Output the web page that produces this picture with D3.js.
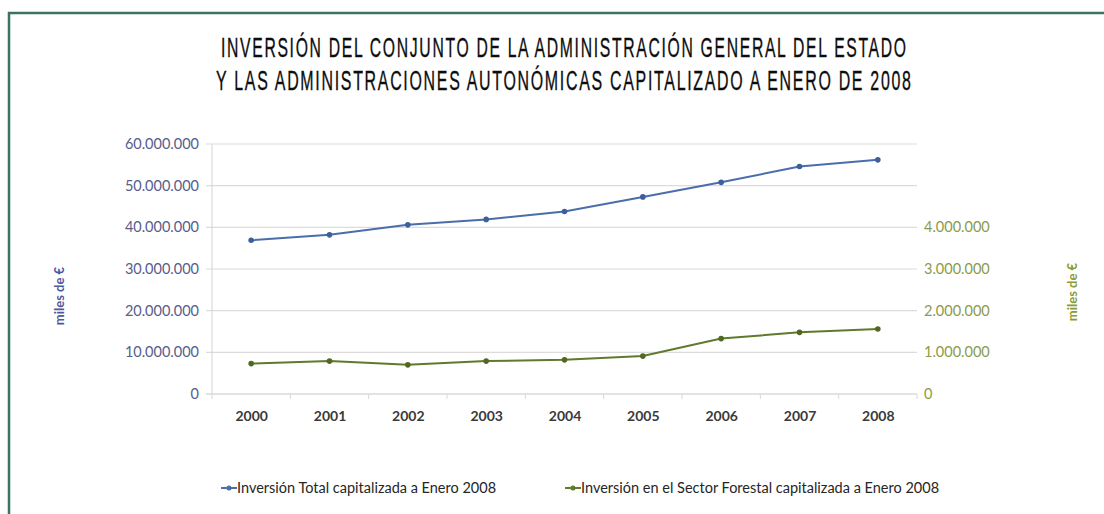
<!DOCTYPE html>
<html>
<head>
<meta charset="utf-8">
<script src="https://cdn.jsdelivr.net/npm/d3@7"></script>
<style>
  body { margin: 0; background: #fff; }
  svg { display: block; }
</style>
</head>
<body>
<div id="chart"></div>
<script>
// data (miles de euros)
var years = ["2000", "2001", "2002", "2003", "2004", "2005", "2006", "2007", "2008"];
var total = [36900000, 38200000, 40600000, 41900000, 43800000, 47300000, 50800000, 54600000, 56200000];
var forestal = [730000, 790000, 700000, 790000, 820000, 910000, 1330000, 1480000, 1560000];
var leftTicks = [0, 10000000, 20000000, 30000000, 40000000, 50000000, 60000000];
var rightTicks = [0, 1000000, 2000000, 3000000, 4000000];
var titleLines = [
  "INVERSIÓN DEL CONJUNTO DE LA ADMINISTRACIÓN GENERAL DEL ESTADO",
  "Y LAS ADMINISTRACIONES AUTONÓMICAS CAPITALIZADO A ENERO DE 2008"
];
var legendLabels = [
  "Inversión Total capitalizada a Enero 2008",
  "Inversión en el Sector Forestal capitalizada a Enero 2008"
];

var W = 1104, H = 514;
var margin = {top: 144, right: 187, bottom: 120, left: 212},
    width = W - margin.left - margin.right,
    height = H - margin.top - margin.bottom;

var blue = "#4a6eab", green = "#5f7a2a";
var blueText = "#575c8c", greenText = "#8b9a4a";

var svg = d3.select("#chart").append("svg")
  .attr("width", W)
  .attr("height", H);

// frame (top and left edges visible)
svg.append("path")
  .attr("d", "M9," + H + " L9,13 L" + W + ",13")
  .attr("fill", "none")
  .attr("stroke", "#3b7460")
  .attr("stroke-width", 2.5);

// title: narrow glyphs, a little letter spacing, fitted to the reference width
var titleW = [687, 697];
var ls = 3;
svg.selectAll(".title")
  .data(titleLines)
  .enter().append("text")
    .attr("class", "title")
    .attr("x", 0)
    .attr("y", 0)
    .attr("text-anchor", "middle")
    .style("font-family", "'Liberation Sans Narrow', 'Liberation Sans', sans-serif")
    .style("font-size", "28px")
    .style("fill", "#0d0d0d")
    .style("stroke", "#0d0d0d")
    .style("stroke-width", "0.35px")
    .style("letter-spacing", ls + "px")
    .text(function(d) { return d; })
    .each(function(d, i) {
      var w = this.getComputedTextLength();
      var sx = titleW[i] / w;
      d3.select(this)
        .attr("transform", "translate(" + (563.5 + ls * sx / 2) + "," + (57 + i * 33) + ") scale(" + sx + ",1)");
    });

var g = svg.append("g")
  .attr("transform", "translate(" + margin.left + "," + margin.top + ")");

var x = d3.scalePoint()
  .domain(years)
  .range([0, width])
  .padding(0.5);

var yL = d3.scaleLinear()
  .domain([0, 60000000])
  .range([height, 0]);

var yR = d3.scaleLinear()
  .domain([0, 6000000])
  .range([height, 0]);

var fmt = function(v) { return d3.format(",")(v).replace(/,/g, "."); };

// gridlines
g.selectAll(".grid")
  .data(leftTicks)
  .enter().append("line")
    .attr("x1", -6)
    .attr("x2", width)
    .attr("y1", function(d) { return yL(d); })
    .attr("y2", function(d) { return yL(d); })
    .attr("stroke", function(d) { return d == 0 ? "#c8c8c8" : "#dcdcdc"; })
    .attr("stroke-width", 1.2);

// left axis line
g.append("line")
  .attr("x1", 0).attr("x2", 0)
  .attr("y1", 0).attr("y2", height)
  .attr("stroke", "#d4d4d4");

// x axis tick marks between categories
var step = x.step();
g.selectAll(".xtick")
  .data(d3.range(years.length + 1))
  .enter().append("line")
    .attr("x1", function(d) { return d * step; })
    .attr("x2", function(d) { return d * step; })
    .attr("y1", height)
    .attr("y2", height + 5)
    .attr("stroke", "#d8d8d8");

// left axis labels
var axL = g.append("g")
  .call(d3.axisLeft(yL).tickValues(leftTicks).tickFormat(fmt).tickSize(0).tickPadding(13));
axL.select(".domain").remove();
axL.selectAll("text")
  .style("font-family", "Lato, sans-serif")
  .style("font-size", "14.5px")
  .style("fill", blueText);

// right axis labels
var axR = g.append("g")
  .attr("transform", "translate(" + width + ",0)")
  .call(d3.axisRight(yR).tickValues(rightTicks).tickFormat(fmt).tickSize(0).tickPadding(7));
axR.select(".domain").remove();
axR.selectAll("text")
  .style("font-family", "Lato, sans-serif")
  .style("font-size", "14.5px")
  .style("fill", greenText);

// x axis labels
var axX = g.append("g")
  .attr("transform", "translate(0," + height + ")")
  .call(d3.axisBottom(x).tickSize(0).tickPadding(17));
axX.select(".domain").remove();
axX.selectAll("text")
  .style("font-family", "Lato, sans-serif")
  .style("font-size", "14px")
  .style("font-weight", "bold")
  .style("fill", "#3a3a3a");

// axis titles
svg.append("text")
  .attr("transform", "translate(64,296) rotate(-90)")
  .attr("text-anchor", "middle")
  .style("font-family", "Lato, sans-serif")
  .style("font-size", "13px")
  .style("font-weight", "bold")
  .style("fill", "#4d58a0")
  .text("miles de €");

svg.append("text")
  .attr("transform", "translate(1077,292) rotate(-90)")
  .attr("text-anchor", "middle")
  .style("font-family", "Lato, sans-serif")
  .style("font-size", "13px")
  .style("font-weight", "bold")
  .style("fill", "#8a9a34")
  .text("miles de €");

// lines
var lineL = d3.line()
  .x(function(d, i) { return x(years[i]); })
  .y(function(d) { return yL(d); });
var lineR = d3.line()
  .x(function(d, i) { return x(years[i]); })
  .y(function(d) { return yR(d); });

g.append("path")
  .datum(total)
  .attr("d", lineL)
  .attr("fill", "none")
  .attr("stroke", blue)
  .attr("stroke-width", 2);

g.append("path")
  .datum(forestal)
  .attr("d", lineR)
  .attr("fill", "none")
  .attr("stroke", green)
  .attr("stroke-width", 2);

// markers
g.selectAll(".mL")
  .data(total)
  .enter().append("circle")
    .attr("cx", function(d, i) { return x(years[i]); })
    .attr("cy", function(d) { return yL(d); })
    .attr("r", 2.8)
    .attr("fill", "#3e5f99");

g.selectAll(".mR")
  .data(forestal)
  .enter().append("circle")
    .attr("cx", function(d, i) { return x(years[i]); })
    .attr("cy", function(d) { return yR(d); })
    .attr("r", 2.8)
    .attr("fill", "#4f6822");

// legend
var legX = [221, 565];
var legColors = [blue, green];
var leg = svg.selectAll(".leg")
  .data(legendLabels)
  .enter().append("g")
    .attr("transform", function(d, i) { return "translate(" + legX[i] + ",488)"; });

leg.append("line")
  .attr("x1", 0).attr("x2", 16)
  .attr("stroke", function(d, i) { return legColors[i]; })
  .attr("stroke-width", 2);
leg.append("circle")
  .attr("cx", 8)
  .attr("r", 2.5)
  .attr("fill", function(d, i) { return legColors[i]; });
leg.append("text")
  .attr("x", 16)
  .attr("dy", "0.35em")
  .style("font-family", "Lato, sans-serif")
  .style("font-size", "14.5px")
  .style("fill", "#262626")
  .text(function(d) { return d; });
</script>
</body>
</html>
